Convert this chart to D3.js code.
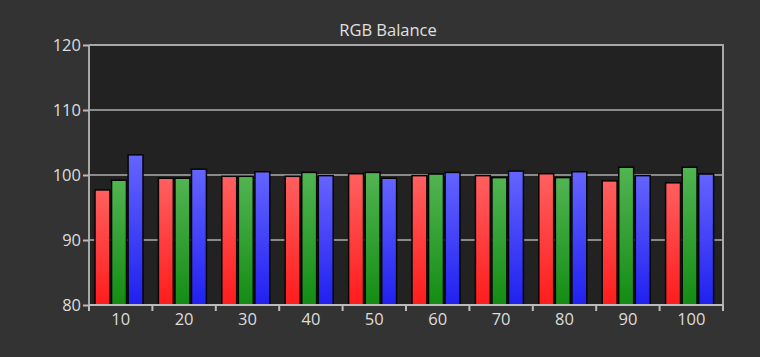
<!DOCTYPE html>
<html><head><meta charset="utf-8">
<script src="https://cdn.jsdelivr.net/npm/d3@7"></script>
<style>html,body{margin:0;padding:0;background:#333333;}svg{display:block;}</style>
</head><body>
<svg id="chart" width="760" height="357"></svg>
<script>
const categories = ["10","20","30","40","50","60","70","80","90","100"];
const redValues   = [97.7, 99.5, 99.8, 99.8, 100.2, 99.9, 99.9, 100.2, 99.1, 98.8];
const greenValues = [99.2, 99.5, 99.8, 100.4, 100.4, 100.15, 99.6, 99.6, 101.2, 101.2];
const blueValues  = [103.1, 100.9, 100.5, 99.9, 99.5, 100.4, 100.6, 100.5, 99.9, 100.15];
const yTicks = [80, 90, 100, 110, 120];
const seriesNames = ["red","green","blue"];

const svg = d3.select("#chart");
const W = 760, H = 357;
const m = {left: 89, right: 37, top: 45, bottom: 52};
const x0 = m.left, x1 = W - m.right, y0 = H - m.bottom, y1 = m.top;

svg.append("rect").attr("width", W).attr("height", H).attr("fill", "#333333");

const defs = svg.append("defs");
const grads = {
  red:   ["#ff6060", "#ff1c1c"],
  green: ["#52b452", "#138c13"],
  blue:  ["#6464ff", "#2020f0"]
};
Object.entries(grads).forEach(([k, c]) => {
  const g = defs.append("linearGradient").attr("id", "g-" + k)
    .attr("x1", 0).attr("y1", 0).attr("x2", 0).attr("y2", 1);
  g.append("stop").attr("offset", "0%").attr("stop-color", c[0]);
  g.append("stop").attr("offset", "100%").attr("stop-color", c[1]);
});

const x = d3.scaleBand().domain(categories).range([x0, x1]).paddingInner(0).paddingOuter(0);
const xs = d3.scaleBand().domain(seriesNames).range([6, 54]).paddingInner(0.1).paddingOuter(0);
const y = d3.scaleLinear().domain([80, 120]).range([y0, y1]);

// plot background
svg.append("rect").attr("x", x0).attr("y", y1).attr("width", x1 - x0).attr("height", y0 - y1).attr("fill", "#222222");

// gridlines
svg.append("g").selectAll("line").data(yTicks.filter(t => t > 80)).join("line")
  .attr("x1", x0).attr("x2", x1).attr("y1", d => y(d)).attr("y2", d => y(d))
  .attr("stroke", "#8a8a8a").attr("stroke-width", 2);

// bars
const data = categories.map((c, i) => ({c, vals: [
  {s: "red", v: redValues[i]}, {s: "green", v: greenValues[i]}, {s: "blue", v: blueValues[i]}
]}));
const groups = svg.append("g").selectAll("g").data(data).join("g")
  .attr("transform", d => `translate(${x(d.c)},0)`);
groups.selectAll("rect").data(d => d.vals).join("rect")
  .attr("x", d => xs(d.s)).attr("width", xs.bandwidth())
  .attr("y", d => y(d.v)).attr("height", d => y0 - y(d.v))
  .attr("fill", d => `url(#g-${d.s})`)
  .attr("stroke", "#050505").attr("stroke-width", 1.5);

// frame lines
svg.append("line").attr("x1", x0).attr("x2", x0).attr("y1", y1).attr("y2", y0).attr("stroke", "#a8a8a8").attr("stroke-width", 2);
svg.append("line").attr("x1", x1).attr("x2", x1).attr("y1", y1 - 1).attr("y2", y0).attr("stroke", "#a8a8a8").attr("stroke-width", 2);
svg.append("line").attr("x1", x0).attr("x2", x1).attr("y1", y1).attr("y2", y1).attr("stroke", "#a8a8a8").attr("stroke-width", 2);

// y axis
const yAxis = d3.axisLeft(y).tickValues(yTicks).tickSize(6).tickPadding(2).tickFormat(d3.format("d"));
const ya = svg.append("g").attr("transform", `translate(${x0},0)`).call(yAxis);
ya.select(".domain").remove();
ya.selectAll("line").attr("stroke", "#bbbbbb").attr("stroke-width", 2);
ya.selectAll("text").attr("fill", "#dddddd").style("font-family", "'Open Sans', sans-serif").style("font-size", "16.5px");

// x axis
const xAxis = d3.axisBottom(x).tickSize(0).tickPadding(8);
const xa = svg.append("g").attr("transform", `translate(0,${y0})`).call(xAxis);
xa.select(".domain").attr("stroke", "#bbbbbb").attr("stroke-width", 2).attr("d", `M${x0},0H${x1}`);
xa.selectAll("text").attr("fill", "#dddddd").style("font-family", "'Open Sans', sans-serif").style("font-size", "16.5px");
// tick marks at band boundaries
svg.append("g").selectAll("line").data(categories).join("line")
  .attr("x1", d => x(d) + x.bandwidth()).attr("x2", d => x(d) + x.bandwidth())
  .attr("y1", y0).attr("y2", y0 + 6)
  .attr("stroke", "#bbbbbb").attr("stroke-width", 2);
svg.append("line").attr("x1", x0).attr("x2", x0).attr("y1", y0).attr("y2", y0 + 6).attr("stroke", "#bbbbbb").attr("stroke-width", 2);

// title
svg.append("text").attr("x", 388).attr("y", 36).attr("text-anchor", "middle")
  .attr("fill", "#e0e0e0").style("font-family", "'Open Sans', sans-serif").style("font-size", "16.5px")
  .text("RGB Balance");
</script>
</body></html>
